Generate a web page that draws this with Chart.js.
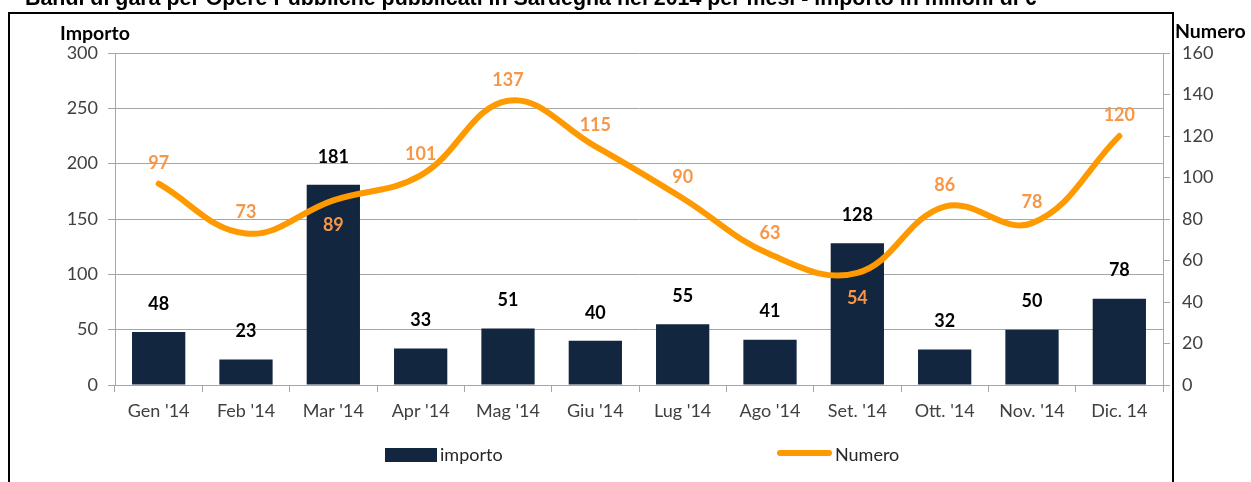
<!DOCTYPE html>
<html>
<head>
<meta charset="utf-8">
<script src="https://cdn.jsdelivr.net/npm/chart.js@4.4.1/dist/chart.umd.min.js"></script>
<style>
  html, body { margin:0; padding:0; background:#fff; }
  #wrap { position:relative; width:1251px; height:482px; overflow:hidden; }
  #frame { position:absolute; left:8px; top:12px; width:1166px; height:520px; box-sizing:border-box; border:2px solid #000; z-index:0; }
  #title { position:absolute; left:25px; top:-14px; font:bold 21.4px "Liberation Sans", Arial, sans-serif; color:#000; white-space:nowrap; z-index:2; }
  canvas { position:absolute; left:0; top:0; z-index:1; }
  .axt { position:absolute; font:bold 19.5px Lato, sans-serif; color:#000; z-index:2; white-space:nowrap; }
  .leg { position:absolute; font:18px Lato, sans-serif; color:#262626; z-index:2; white-space:nowrap; }
</style>
</head>
<body>
<div id="wrap">
  <div id="frame"></div>
  <div id="title">Bandi di gara per Opere Pubbliche pubblicati in Sardegna nel 2014 per mesi - importo in milioni di €</div>
  <canvas id="c" width="1251" height="482"></canvas>
  <div class="axt" style="left:60px; top:21px;">Importo</div>
  <div class="axt" style="left:1175px; top:19px;">Numero</div>
  <div style="position:absolute; left:385px; top:448px; width:52px; height:14px; background:#12263F; z-index:2;"></div>
  <div class="leg" style="left:440px; top:443px;">importo</div>
  <div style="position:absolute; left:777px; top:450px; width:55px; height:6px; border-radius:3px; background:#FF9900; z-index:2;"></div>
  <div class="leg" style="left:835px; top:443px;">Numero</div>
</div>
<script>
const categories = ["Gen '14", "Feb '14", "Mar '14", "Apr '14", "Mag '14", "Giu '14", "Lug '14", "Ago '14", "Set. '14", "Ott. '14", "Nov. '14", "Dic. 14"];
const importo = [48, 23, 181, 33, 51, 40, 55, 41, 128, 32, 50, 78];
const numero = [97, 73, 89, 101, 137, 115, 90, 63, 54, 86, 78, 120];
const numeroLabelPos = ['above','above','below','above','above','above','above','above','below','above','above','above'];
const importoTicks = [0, 50, 100, 150, 200, 250, 300];
const numeroTicks = [0, 20, 40, 60, 80, 100, 120, 140, 160];

const GRID = '#A6A6A6';
const TICKC = '#404040';

const labelsPlugin = {
  id: 'valueLabels',
  afterDatasetsDraw(chart) {
    const ctx = chart.ctx;
    ctx.save();
    ctx.textAlign = 'center';
    ctx.textBaseline = 'middle';
    ctx.font = 'bold 18px Lato, sans-serif';
    const barMeta = chart.getDatasetMeta(0);
    ctx.fillStyle = '#000';
    barMeta.data.forEach((el, i) => {
      ctx.fillText(String(importo[i]), el.x, el.y - 28);
    });
    const lineMeta = chart.getDatasetMeta(1);
    ctx.fillStyle = '#F79646';
    lineMeta.data.forEach((el, i) => {
      const dy = numeroLabelPos[i] === 'below' ? 25 : -21;
      ctx.fillText(String(numero[i]), el.x, el.y + dy);
    });
    ctx.restore();
  }
};

new Chart(document.getElementById('c'), {
  data: {
    labels: categories,
    datasets: [
      {
        type: 'bar',
        label: 'importo',
        data: importo,
        backgroundColor: '#12263F',
        yAxisID: 'y',
        categoryPercentage: 1,
        barPercentage: 0.61,
        order: 2
      },
      {
        type: 'line',
        label: 'Numero',
        data: numero,
        borderColor: '#FF9900',
        borderWidth: 6,
        borderCapStyle: 'round',
        borderJoinStyle: 'round',
        pointRadius: 0,
        tension: 0.4,
        fill: false,
        yAxisID: 'y1',
        order: 1
      }
    ]
  },
  options: {
    responsive: false,
    animation: false,
    devicePixelRatio: 1,
    layout: { padding: { top: 53, left: 0, right: 0, bottom: 0 } },
    plugins: { legend: { display: false }, title: { display: false }, tooltip: { enabled: false } },
    scales: {
      x: {
        offset: true,
        grid: { display: true, drawOnChartArea: false, drawTicks: true, tickLength: 7, color: GRID, offset: true },
        border: { color: GRID, width: 1 },
        ticks: { font: { family: 'Lato', size: 18 }, color: TICKC, padding: 8, maxRotation: 0, autoSkip: false },
        afterFit(s) { s.height = 97; }
      },
      y: {
        position: 'left',
        min: 0, max: 300,
        afterBuildTicks(s) { s.ticks = importoTicks.map(v => ({ value: v })); },
        grid: { color: GRID, tickLength: 7 },
        border: { color: GRID, width: 1 },
        ticks: { font: { family: 'Lato', size: 18 }, color: TICKC, padding: 10 },
        afterFit(s) { s.width = 115; }
      },
      y1: {
        position: 'right',
        min: 0, max: 160,
        afterBuildTicks(s) { s.ticks = numeroTicks.map(v => ({ value: v })); },
        grid: { drawOnChartArea: false, color: GRID, tickLength: 7 },
        border: { color: GRID, width: 1 },
        ticks: { font: { family: 'Lato', size: 18 }, color: TICKC, padding: 12 },
        afterFit(s) { s.width = 88; }
      }
    }
  },
  plugins: [labelsPlugin]
});
</script>
</body>
</html>
